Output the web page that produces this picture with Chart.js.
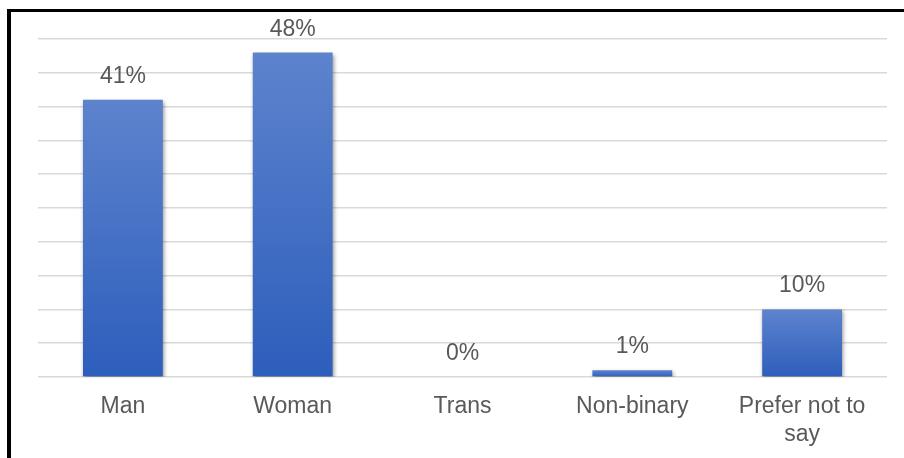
<!DOCTYPE html>
<html>
<head>
<meta charset="utf-8">
<script src="https://cdn.jsdelivr.net/npm/chart.js@4/dist/chart.umd.min.js"></script>
<style>
  html, body { margin: 0; padding: 0; background: #fff; }
  body { width: 904px; height: 458px; position: relative; overflow: hidden; }
  .frame {
    position: absolute; left: 7px; top: 9px; right: -20px; bottom: -20px;
    border-left: 4px solid #000; border-top: 3px solid #000;
  }
  #wrap { position: absolute; left: 0; top: 0; width: 904px; height: 458px; }
</style>
</head>
<body>
<div class="frame"></div>
<div id="wrap"><canvas id="chart" width="904" height="458"></canvas></div>
<script>
// Survey: gender identity of respondents (percent)
const categories = ['Man', 'Woman', 'Trans', 'Non-binary', ['Prefer not to', 'say']];
const shares = [41, 48, 0, 1, 10];
const yMax = 50;
const yStep = 5;

const FONT = '"Liberation Sans", Arial, sans-serif';
const TEXT = '#595959';

// Vertical gradient per bar, light at the top, deeper blue at the base
function barFill(ctx) {
  const chart = ctx.chart;
  const y = chart.scales.y;
  if (!y || ctx.raw === undefined) return '#4472C4';
  const top = y.getPixelForValue(ctx.raw);
  const bottom = y.getPixelForValue(0);
  if (!isFinite(top) || !isFinite(bottom) || top === bottom) return '#4472C4';
  const g = chart.ctx.createLinearGradient(0, top, 0, bottom);
  g.addColorStop(0, '#5D83CD');
  g.addColorStop(1, '#2D5EBC');
  return g;
}

// Soft drop shadow under the bars
const barShadow = {
  id: 'barShadow',
  beforeDatasetsDraw(chart) {
    const c = chart.ctx;
    c.save();
    c.shadowColor = 'rgba(0,0,0,0.42)';
    c.shadowBlur = 4;
    c.shadowOffsetX = 1;
    c.shadowOffsetY = 2;
  },
  afterDatasetsDraw(chart) {
    chart.ctx.restore();
  }
};

// Percentage labels above each bar
const valueLabels = {
  id: 'valueLabels',
  afterDatasetsDraw(chart) {
    const c = chart.ctx;
    const meta = chart.getDatasetMeta(0);
    c.save();
    c.font = '23px ' + FONT;
    c.fillStyle = TEXT;
    c.textAlign = 'center';
    c.textBaseline = 'alphabetic';
    meta.data.forEach((bar, i) => {
      c.fillText(shares[i] + '%', bar.x, bar.y - 17);
    });
    c.restore();
  }
};

new Chart(document.getElementById('chart'), {
  type: 'bar',
  data: {
    labels: categories,
    datasets: [{
      data: shares,
      backgroundColor: barFill,
      borderWidth: 0,
      categoryPercentage: 1,
      barPercentage: 0.47
    }]
  },
  options: {
    responsive: false,
    animation: false,
    devicePixelRatio: 1,
    layout: { padding: { left: 38, right: 17, top: 39, bottom: 0 } },
    plugins: {
      legend: { display: false },
      tooltip: { enabled: false }
    },
    scales: {
      x: {
        grid: { display: false, drawTicks: false },
        border: { display: false },
        ticks: {
          color: TEXT,
          font: { family: FONT, size: 23, lineHeight: 1.2 },
          padding: 16,
          maxRotation: 0,
          autoSkip: false
        },
        afterFit(scale) { scale.height = 81; }
      },
      y: {
        min: 0,
        max: yMax,
        grid: { color: '#D9D9D9', lineWidth: 1.6, drawTicks: false },
        border: { display: false },
        ticks: { display: false, stepSize: yStep },
        afterFit(scale) { scale.width = 0; }
      }
    }
  },
  plugins: [barShadow, valueLabels]
});
</script>
</body>
</html>
